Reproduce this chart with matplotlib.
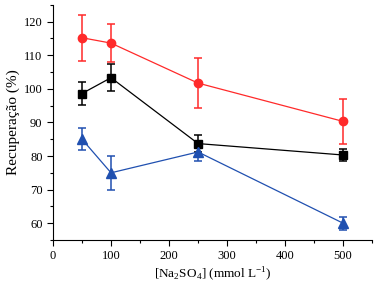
import matplotlib
matplotlib.use("Agg")
import matplotlib.pyplot as plt
from matplotlib.ticker import MultipleLocator

plt.rcParams['font.family'] = ['Liberation Serif', 'DejaVu Serif']
plt.rcParams['mathtext.fontset'] = 'custom'
plt.rcParams['mathtext.rm'] = 'Liberation Serif'

conc = [50, 100, 250, 500]
red_vals = [115.2, 113.6, 101.7, 90.3]
red_err = [6.8, 5.6, 7.5, 6.8]
black_vals = [98.6, 103.3, 83.7, 80.3]
black_err = [3.4, 4.1, 2.6, 1.8]
blue_vals = [85.0, 75.0, 81.2, 60.0]
blue_err = [3.2, 5.0, 2.7, 1.9]

fig = plt.figure(figsize=(3.75, 2.9), dpi=100)
ax = fig.add_axes([0.1413, 0.1724, 0.851, 0.811])

ax.errorbar(conc, red_vals, yerr=red_err, color='#ff2a2a', marker='o', markersize=6,
            linewidth=0.9, elinewidth=1.1, capsize=3, capthick=1.1)
ax.errorbar(conc, black_vals, yerr=black_err, color='black', marker='s', markersize=5.5,
            linewidth=0.9, elinewidth=1.1, capsize=3, capthick=1.1)
ax.errorbar(conc, blue_vals, yerr=blue_err, color='#2050b0', marker='^', markersize=6.5,
            linewidth=0.9, elinewidth=1.1, capsize=3, capthick=1.1)

ax.set_xlim(0, 550)
ax.set_ylim(55, 125)
ax.xaxis.set_major_locator(MultipleLocator(100))
ax.xaxis.set_minor_locator(MultipleLocator(50))
ax.yaxis.set_minor_locator(MultipleLocator(5))
ax.set_yticks(range(60, 121, 10))
ax.spines['top'].set_visible(False)
ax.spines['right'].set_visible(False)
ax.tick_params(which='major', direction='out', length=4, width=0.8, labelsize=9)
ax.tick_params(which='minor', direction='out', length=2, width=0.8)

ax.set_xlabel(r'[Na$_2$SO$_4$] (mmol L$^{-1}$)', fontsize=9.5, labelpad=2)
ax.set_ylabel('Recuperação (%)', fontsize=11, labelpad=3)

fig.savefig('out.png', dpi=100)
